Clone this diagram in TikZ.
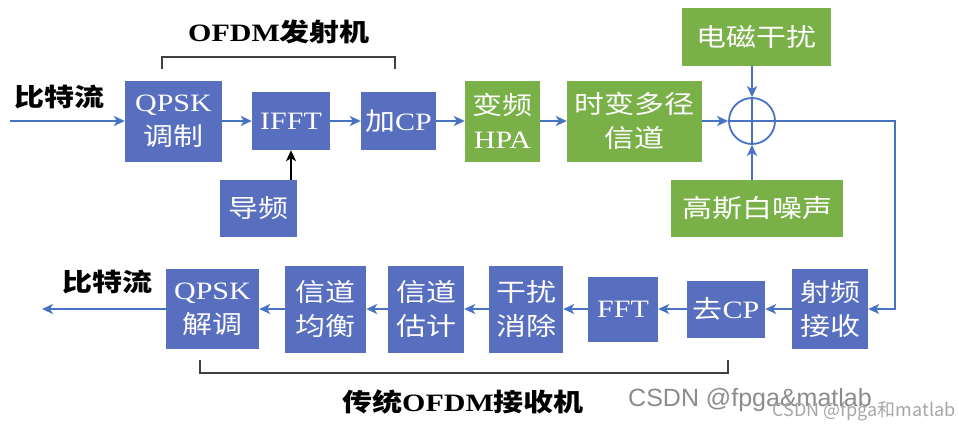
\documentclass[tikz,border=0pt]{standalone}
\usepackage{fontspec}
\setmainfont{Liberation Serif}[FakeStretch=1.2]
\newfontfamily\zh{Noto Sans CJK SC}[FakeStretch=1.2]
\newfontfamily\wmfont{Liberation Sans}
\newfontfamily\wmzh{Noto Sans CJK SC}
\usetikzlibrary{arrows.meta}

\definecolor{boxblue}{RGB}{88,110,190}
\definecolor{boxgreen}{RGB}{122,176,72}
\definecolor{lineblue}{RGB}{72,114,196}

\tikzset{
  bbox/.style={fill=boxblue, text=white, align=center, inner sep=0pt,
    font=\fontsize{25}{34}\selectfont},
  gbox/.style={bbox, fill=boxgreen},
  flow/.style={draw=lineblue, line width=1.8pt,
    -{Stealth[length=11pt,width=10pt,inset=3pt]}},
  wire/.style={draw=lineblue, line width=1.8pt},
  brk/.style={draw=black!75, line width=2pt},
  lbl/.style={font=\fontsize{25}{30}\selectfont\bfseries}
}

\begin{document}
\begin{tikzpicture}[x=1pt, y=-1pt]
        \useasboundingbox (0,0) rectangle (959,429);

        % transmitter chain
        \node[bbox, minimum width=97, minimum height=81] (qpsk) at (173.5,121) {QPSK\\{\zh 调制}};
        \node[bbox, minimum width=78, minimum height=58] (ifft) at (291,121) {IFFT};
        \node[bbox, minimum width=75, minimum height=58] (addcp) at (398.5,121) {{\zh 加}CP};
        \node[bbox, minimum width=77, minimum height=57] (pilot) at (258.5,208.5) {{\zh 导频}};

        % channel
        \node[gbox, minimum width=75, minimum height=81] (hpa) at (502.5,121) {{\zh 变频}\\HPA};
        \node[gbox, minimum width=135, minimum height=81] (chan) at (634.5,121) {{\zh 时变多径}\\{\zh 信道}};
        \node[circle, wire, fill=white, minimum size=46, inner sep=0pt] (sum) at (752,121) {};
        \node[gbox, minimum width=149, minimum height=58] (emi) at (756.5,37) {{\zh 电磁干扰}};
        \node[gbox, minimum width=172, minimum height=57] (awgn) at (757,208.5) {{\zh 高斯白噪声}};

        % receiver chain
        \node[bbox, minimum width=76, minimum height=80] (rf) at (830,309) {{\zh 射频}\\{\zh 接收}};
        \node[bbox, minimum width=78, minimum height=57] (rmcp) at (726,309) {{\zh 去}CP};
        \node[bbox, minimum width=70, minimum height=65] (fft) at (623,309) {FFT};
        \node[bbox, minimum width=74, minimum height=87] (ic) at (526,309) {{\zh 干扰}\\{\zh 消除}};
        \node[bbox, minimum width=76, minimum height=87] (est) at (426,309) {{\zh 信道}\\{\zh 估计}};
        \node[bbox, minimum width=81, minimum height=87] (eq) at (325.5,309) {{\zh 信道}\\{\zh 均衡}};
        \node[bbox, minimum width=93, minimum height=80] (demod) at (212.5,309) {QPSK\\{\zh 解调}};

        \coordinate (in) at (10,121);
        \coordinate (out) at (42,309);
        \coordinate (turn) at (895,121);

        % connectors
        \draw[flow] (in) -- (qpsk);
        \draw[flow] (qpsk) -- (ifft);
        \draw[flow] (ifft) -- (addcp);
        \draw[flow] (addcp) -- (hpa);
        \draw[flow] (hpa) -- (chan);
        \draw[flow] (chan) -- (sum.west);
        \draw[wire] (sum.north) -- (sum.south);
        \draw[wire] (sum.west) -- (sum.east);
        \draw[flow] (emi.south -| sum) -- (sum.north);
        \draw[flow] (awgn.north -| sum) -- (sum.south);
        \draw[flow] (sum.east) -- (turn) |- (rf);
        \draw[-{Stealth[length=11pt,width=10pt,inset=3pt]}, line width=1.8pt] (pilot.north -| ifft) -- (ifft.south);
        \draw[flow] (rf) -- (rmcp);
        \draw[flow] (rmcp) -- (fft);
        \draw[flow] (fft) -- (ic);
        \draw[flow] (ic) -- (est);
        \draw[flow] (est) -- (eq);
        \draw[flow] (eq) -- (demod);
        \draw[flow] (demod) -- (out);

        % labels and brackets
        \node[lbl] (bitsin) at (60,97) {{\zh 比特流}};
        \node[lbl] (bitsout) at (107,282) {{\zh 比特流}};
        \draw[brk] (162,69) |- (395,57) -- (395,69);
        \node[lbl] (txname) at (279,32) {OFDM{\zh 发射机}};
        \draw[brk] (200,360) |- (728,373) -- (728,360);
        \node[lbl] (rxname) at (463,402) {{\zh 传统}OFDM{\zh 接收机}};

        % watermarks
        \node[text=black!45, font=\wmfont\fontsize{25}{30}\selectfont] (wm1) at (750,400) {CSDN @fpga\&matlab};
        \node[text=black!35, font=\wmzh\fontsize{18}{22}\selectfont] (wm2) at (864,411) {CSDN @fpga和matlab};
    \end{tikzpicture}
\end{document}
